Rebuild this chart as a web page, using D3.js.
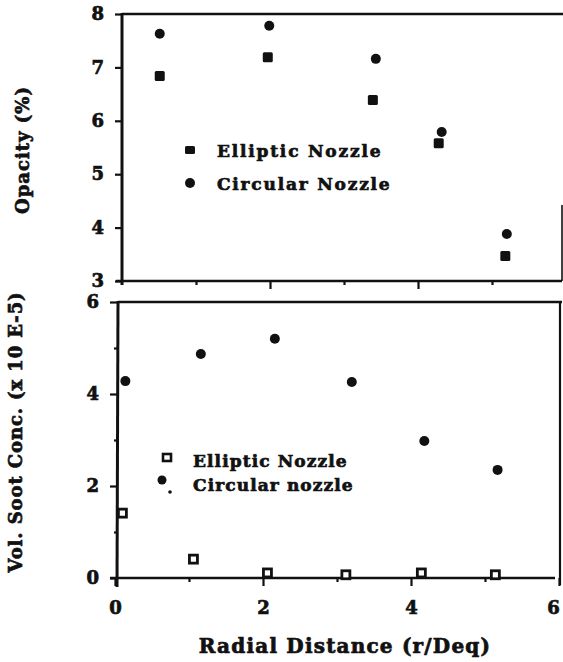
<!DOCTYPE html>
<html>
<head>
<meta charset="utf-8">
<script src="https://cdn.jsdelivr.net/npm/d3@7"></script>
<style>
  html, body { margin: 0; padding: 0; background: #fff; }
  svg text { font-family: "DejaVu Serif", "Liberation Serif", serif; font-weight: bold; fill: #111;
             stroke: #111; stroke-width: 0.7px; }
</style>
</head>
<body>
<svg id="chart" width="563" height="662"></svg>
<script>
// Radial distance ticks shared by both panels
const xMajorTicks = [0, 2, 4, 6];
const xMinorTicks = [1, 3, 5];

// Upper panel: opacity (%)
const opacityTicks = [3, 4, 5, 6, 7, 8];
const opacityEllipticR = [0.51, 1.97, 3.39, 4.28, 5.18];
const opacityEllipticV = [6.84, 7.19, 6.39, 5.58, 3.47];
const opacityCircularR = [0.51, 1.99, 3.43, 4.32, 5.20];
const opacityCircularV = [7.63, 7.78, 7.16, 5.79, 3.88];

// Lower panel: volumetric soot concentration (x 10 E-5)
const sootMajorTicks = [0, 2, 4, 6];
const sootMinorTicks = [1, 3, 5];
const sootEllipticR = [0.10, 1.06, 2.06, 3.12, 4.14, 5.14];
const sootEllipticV = [1.41, 0.41, 0.11, 0.07, 0.11, 0.07];
const sootCircularR = [0.14, 1.16, 2.16, 3.20, 4.18, 5.17];
const sootCircularV = [4.28, 4.87, 5.20, 4.26, 2.98, 2.35];

const svg = d3.select("#chart");
const ink = "#111";

// ---------- scales ----------
const xTop = d3.scaleLinear().domain([0, 6]).range([122, 566]);
const yTop = d3.scaleLinear().domain([3, 8]).range([281, 14]);
const xBot = d3.scaleLinear().domain([0, 6]).range([115, 559]);
const yBot = d3.scaleLinear().domain([0, 6]).range([578, 302]);

function styleAxis(g, fontSize) {
  g.select(".domain").remove();
  g.selectAll(".tick line").attr("stroke", ink).attr("stroke-width", 2.2);
  g.selectAll(".tick text").attr("font-size", fontSize).attr("fill", ink);
}

function line(x1, y1, x2, y2, w) {
  svg.append("line").attr("x1", x1).attr("y1", y1).attr("x2", x2).attr("y2", y2)
    .attr("stroke", ink).attr("stroke-width", w || 2.6);
}

// ---------- upper panel frame ----------
line(xTop(0), yTop(8), 563, yTop(8), 2.6);
line(xTop(0), yTop(8) - 1, xTop(0), yTop(3) + 4, 3);
line(xTop(0) - 6, yTop(3), 562, yTop(3), 2.6);
line(562, 205, 562, yTop(3), 1.6);

// upper y axis
svg.append("g").attr("transform", `translate(${xTop(0)},0)`)
  .call(d3.axisLeft(yTop).tickValues(opacityTicks).tickSize(7).tickPadding(11).tickFormat(d3.format("d")))
  .call(g => styleAxis(g, 18));

// upper x ticks (no labels)
svg.append("g").attr("transform", `translate(0,${yTop(3)})`)
  .call(d3.axisBottom(xTop).tickValues([2, 4]).tickSize(8).tickFormat(""))
  .call(g => styleAxis(g, 0));
svg.append("g").attr("transform", `translate(0,${yTop(3)})`)
  .call(d3.axisBottom(xTop).tickValues(xMinorTicks).tickSize(4).tickFormat(""))
  .call(g => styleAxis(g, 0));

// upper markers
svg.append("g").selectAll("rect")
  .data(d3.zip(opacityEllipticR, opacityEllipticV)).join("rect")
  .attr("x", d => xTop(d[0]) - 5).attr("y", d => yTop(d[1]) - 5)
  .attr("width", 10).attr("height", 10).attr("rx", 1.5).attr("fill", ink);
svg.append("g").selectAll("circle")
  .data(d3.zip(opacityCircularR, opacityCircularV)).join("circle")
  .attr("cx", d => xTop(d[0])).attr("cy", d => yTop(d[1])).attr("r", 5).attr("fill", ink);

// upper legend
svg.append("rect").attr("x", 185).attr("y", 146).attr("width", 10).attr("height", 8).attr("rx", 1.5).attr("fill", ink);
svg.append("circle").attr("cx", 190).attr("cy", 183).attr("r", 5).attr("fill", ink);
svg.append("text").attr("x", 217).attr("y", 157).attr("font-size", 17).attr("letter-spacing", 1.8).text("Elliptic Nozzle");
svg.append("text").attr("x", 217).attr("y", 190).attr("font-size", 17).attr("letter-spacing", 1.8).text("Circular Nozzle");

// ---------- lower panel frame ----------
line(xBot(0) + 3, yBot(6), 562, yBot(6), 2.6);
line(xBot(0) + 3, yBot(6) - 1, xBot(0) + 2, yBot(0) + 9, 3);
line(xBot(0) - 5, yBot(0), 555, yBot(0), 2.6);
line(560, yBot(6), 560, 585, 2.2);

// lower y axis
svg.append("g").attr("transform", `translate(${xBot(0) + 2},0)`)
  .call(d3.axisLeft(yBot).tickValues(sootMajorTicks).tickSize(7).tickPadding(11).tickFormat(d3.format("d")))
  .call(g => styleAxis(g, 18));
svg.append("g").attr("transform", `translate(${xBot(0) + 2},0)`)
  .call(d3.axisLeft(yBot).tickValues(sootMinorTicks).tickSize(3).tickFormat(""))
  .call(g => styleAxis(g, 0));

// lower x axis
svg.append("g").attr("transform", `translate(0,${yBot(0)})`)
  .call(d3.axisBottom(xBot).tickValues(xMajorTicks).tickSize(8).tickPadding(15).tickFormat(d3.format("d")))
  .call(g => styleAxis(g, 18))
  .call(g => g.selectAll(".tick text").attr("dx", d => d === 6 ? -6 : 0));
svg.append("g").attr("transform", `translate(0,${yBot(0)})`)
  .call(d3.axisBottom(xBot).tickValues(xMinorTicks).tickSize(4).tickFormat(""))
  .call(g => styleAxis(g, 0));

// lower markers: hollow squares and filled dots
svg.append("g").selectAll("rect")
  .data(d3.zip(sootEllipticR, sootEllipticV)).join("rect")
  .attr("x", d => xBot(d[0]) - 4).attr("y", d => yBot(d[1]) - 4)
  .attr("width", 8).attr("height", 8)
  .attr("fill", "#fff").attr("stroke", ink).attr("stroke-width", 2.8);
svg.append("g").selectAll("circle")
  .data(d3.zip(sootCircularR, sootCircularV)).join("circle")
  .attr("cx", d => xBot(d[0])).attr("cy", d => yBot(d[1])).attr("r", 5).attr("fill", ink);

// lower legend
svg.append("rect").attr("x", 163).attr("y", 454).attr("width", 8).attr("height", 7)
  .attr("fill", "#fff").attr("stroke", ink).attr("stroke-width", 2.6);
svg.append("circle").attr("cx", 162).attr("cy", 480).attr("r", 4.5).attr("fill", ink);
svg.append("circle").attr("cx", 170).attr("cy", 492).attr("r", 1.8).attr("fill", ink);
svg.append("text").attr("x", 193).attr("y", 467).attr("font-size", 17).attr("letter-spacing", 1.1).text("Elliptic Nozzle");
svg.append("text").attr("x", 193).attr("y", 491).attr("font-size", 17).attr("letter-spacing", 1.1).text("Circular nozzle");

// ---------- axis titles ----------
svg.append("text").attr("transform", "translate(29,150) rotate(-90)")
  .attr("text-anchor", "middle").attr("font-size", 18).attr("letter-spacing", 1).text("Opacity (%)");
svg.append("text").attr("transform", "translate(22,432) rotate(-90)")
  .attr("text-anchor", "middle").attr("font-size", 18).attr("letter-spacing", 0.9).text("Vol. Soot Conc. (x 10 E-5)");
svg.append("text").attr("x", 345).attr("y", 653)
  .attr("text-anchor", "middle").attr("font-size", 20).attr("letter-spacing", 1.2).text("Radial Distance (r/Deq)");
</script>
</body>
</html>
